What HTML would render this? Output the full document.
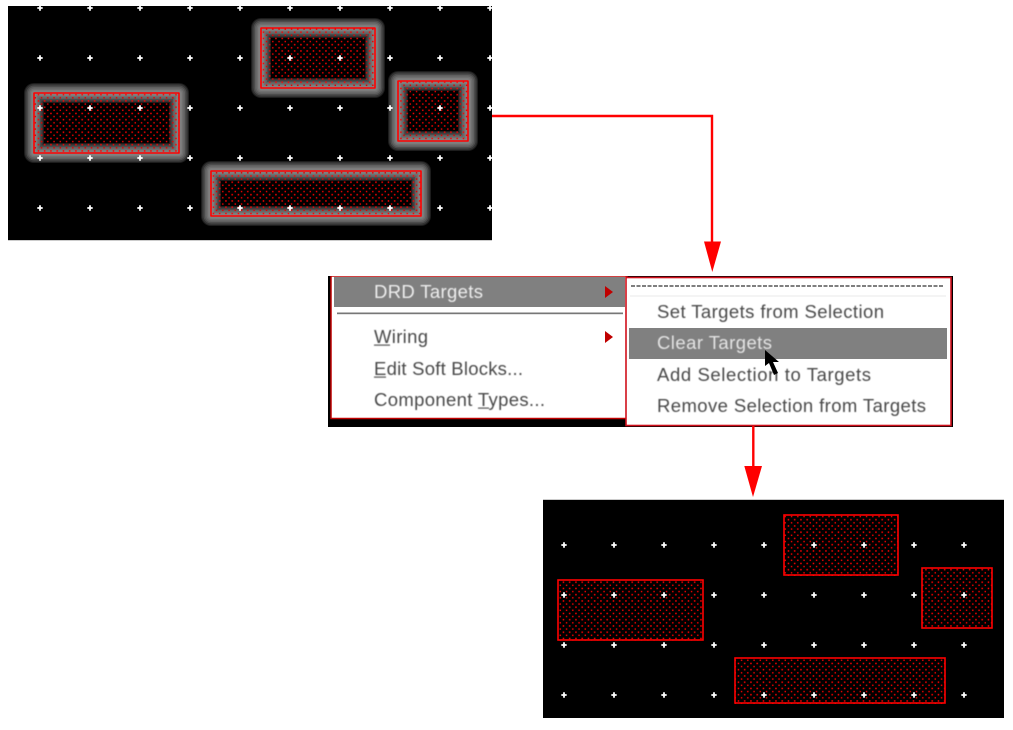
<!DOCTYPE html>
<html>
<head>
<meta charset="utf-8">
<style>
html,body{margin:0;padding:0;background:#fff;width:1013px;height:730px;overflow:hidden}
svg{display:block}
text{font-family:"Liberation Sans",sans-serif;font-size:18.5px;fill:#4a4a4a}
</style>
</head>
<body>
<svg xmlns="http://www.w3.org/2000/svg" width="1013" height="730" viewBox="0 0 1013 730">
<defs>
<pattern id="dots" width="6.25" height="6.25" patternUnits="userSpaceOnUse">
<rect x="0.2" y="0.2" width="1.5" height="1.5" fill="#f00"/>
<rect x="3.3" y="3.3" width="1.5" height="1.5" fill="#e00000"/>
</pattern>
<g id="rs" fill="none" stroke-linejoin="round">
<rect x="34" y="93" width="145" height="60"/>
<rect x="261" y="28" width="114" height="60"/>
<rect x="398" y="81" width="70" height="60"/>
<rect x="211" y="171" width="210" height="45"/>
</g>
<filter id="soft" x="-5%" y="-20%" width="110%" height="140%"><feGaussianBlur stdDeviation="0.4"/></filter>
</defs>

<!-- top panel -->
<rect x="8" y="6" width="484" height="234" fill="#000"/>
<rect x="8" y="240" width="484" height="1" fill="#ccc"/>
<use href="#rs" stroke="#1c1c1c" stroke-width="20"/>
<use href="#rs" stroke="#333" stroke-width="18"/>
<use href="#rs" stroke="#4c4c4c" stroke-width="15"/>
<use href="#rs" stroke="#606060" stroke-width="12"/>
<use href="#rs" stroke="#707070" stroke-width="9"/>
<use href="#rs" stroke="#7c7c7c" stroke-width="6"/>
<use href="#rs" stroke="#858585" stroke-width="3"/>
<rect x="44" y="103" width="125" height="40" fill="#000"/>
<rect x="271" y="38" width="94" height="40" fill="#000"/>
<rect x="408" y="91" width="50" height="40" fill="#000"/>
<rect x="221" y="181" width="190" height="25" fill="#000"/>
<rect x="34" y="93" width="145" height="60" fill="url(#dots)"/>
<rect x="261" y="28" width="114" height="60" fill="url(#dots)"/>
<rect x="398" y="81" width="70" height="60" fill="url(#dots)"/>
<rect x="211" y="171" width="210" height="45" fill="url(#dots)"/>
<use href="#rs" stroke="#f00" stroke-width="1.600"/>
<g stroke="#fff" stroke-width="1.800" fill="none">
<path stroke-dasharray="5.400 44.600" d="M37.300 8H492M37.300 58H492M37.300 108H492M37.300 158H492M37.300 208H492"/>
<path stroke-dasharray="5.400 44.600" d="M40 55.300V240M90 55.300V240M140 55.300V240M190 55.300V240M240 55.300V240M290 55.300V240M340 55.300V240M390 55.300V240M440 55.300V240M490 55.300V240"/>
<path d="M40 6v4.700M90 6v4.700M140 6v4.700M190 6v4.700M240 6v4.700M290 6v4.700M340 6v4.700M390 6v4.700M440 6v4.700M490 6v4.700"/>
</g>

<!-- bottom panel -->
<rect x="543" y="500" width="461" height="218" fill="#000"/>
<rect x="543" y="499" width="461" height="1" fill="#ccc"/>
<rect x="558" y="580" width="145" height="61" fill="url(#dots)"/>
<rect x="784" y="515" width="114" height="61" fill="url(#dots)"/>
<rect x="922" y="568" width="70" height="60" fill="url(#dots)"/>
<rect x="735" y="658" width="210" height="46" fill="url(#dots)"/>
<g fill="none" stroke="#f00" stroke-width="1.600">
<rect x="558" y="580" width="145" height="60"/>
<rect x="784" y="515" width="114" height="60"/>
<rect x="922" y="568" width="70" height="60"/>
<rect x="735" y="658" width="210" height="45"/>
</g>
<g stroke="#fff" stroke-width="1.800" fill="none">
<path stroke-dasharray="5.400 44.600" d="M561.300 545H1004M561.300 595H1004M561.300 645H1004M561.300 695H1004"/>
<path stroke-dasharray="5.400 44.600" d="M564 542.300V718M614 542.300V718M664 542.300V718M714 542.300V718M764 542.300V718M814 542.300V718M864 542.300V718M914 542.300V718M964 542.300V718"/>
</g>

<!-- menu -->
<rect x="328" y="276" width="625" height="151" fill="#000"/>
<rect x="331" y="276" width="296" height="142.500" fill="#fff" stroke="#c00000" stroke-width="1.500"/>
<rect x="328" y="274" width="625" height="2" fill="#fff"/>
<rect x="334" y="277" width="291" height="30" fill="#808080"/>
<rect x="337" y="312.500" width="286" height="1.700" fill="#777"/>
<path d="M605 286l8 6-8 6zM605 331l8 6-8 6z" fill="#c00000"/>
<rect x="626" y="277.500" width="325" height="148" fill="#fff" stroke="#d0101c" stroke-width="1.600"/>
<path d="M631 286H944" stroke="#555" stroke-width="1.500" stroke-dasharray="4 1.500"/>
<rect x="630" y="295.500" width="316" height="1" fill="#e8e8e8"/>
<rect x="629" y="328" width="318" height="31" fill="#808080"/>
<g filter="url(#soft)">
<text x="374" y="298" textLength="109" style="fill:#eee">DRD Targets</text>
<text x="374" y="343" textLength="54">Wiring</text>
<text x="374" y="375" textLength="149">Edit Soft Blocks...</text>
<text x="374" y="406" textLength="171">Component Types...</text>
<text x="657" y="318" textLength="227">Set Targets from Selection</text>
<text x="657" y="349" textLength="115" style="fill:#e4e4e4">Clear Targets</text>
<text x="657" y="381" textLength="214">Add Selection to Targets</text>
<text x="657" y="412" textLength="269">Remove Selection from Targets</text>
<rect x="374" y="344.500" width="16" height="1.200" fill="#555"/>
<rect x="374" y="376.500" width="12" height="1.200" fill="#555"/>
<rect x="478" y="407.500" width="11" height="1.200" fill="#555"/>
</g>
<path d="M765 350l0 16 4-3 5 12 4-2-5-11h6z" fill="#000"/>

<!-- connectors -->
<path d="M492 116H712V245" fill="none" stroke="#f00" stroke-width="2.400"/>
<path d="M704 241.500H721L712.300 272z" fill="#f00"/>
<path d="M753.300 426V468" fill="none" stroke="#f00" stroke-width="2.400"/>
<path d="M744.300 466H762L753 497z" fill="#f00"/>
</svg>
</body>
</html>
